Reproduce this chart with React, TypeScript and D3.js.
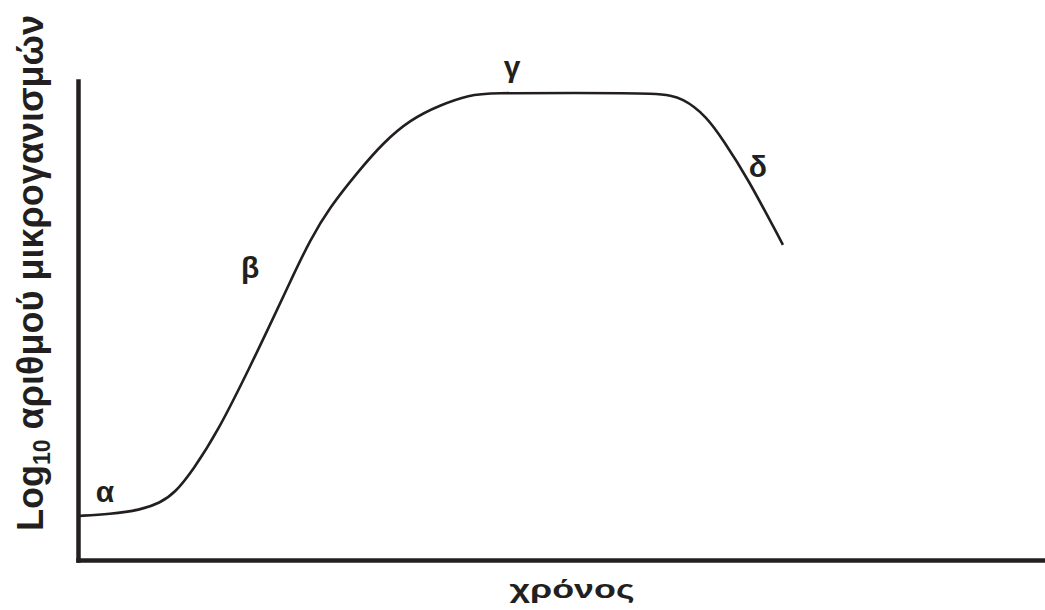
import React, { useEffect, useRef } from "react";
import * as d3 from "d3";

// growth curve (time in % of axis, log10 count in axis units 0..10)
const timeValues = [0, 3.31, 6.41, 8.48, 10.03, 11.89, 14.37, 17.79, 20.58, 22.13, 23.99, 26.06, 28.85, 31.54, 34.33, 37.44, 40.54, 42.61, 51.4, 60.19, 62.56, 65.05, 66.7, 69.18, 72.9];
const logCounts = [0.92, 0.96, 1.04, 1.19, 1.4, 1.88, 2.65, 4.03, 5.22, 5.89, 6.68, 7.37, 8.08, 8.71, 9.19, 9.5, 9.71, 9.75, 9.75, 9.75, 9.65, 9.25, 8.77, 8.0, 6.58];

// growth phases and where their letters sit (data units)
const phaseNames = ["α", "β", "γ", "δ"];
const phaseTime = [2.8, 17.8, 44.9, 70.3];
const phaseLog = [1.21, 5.89, 10.08, 8.0];

const xTitle = "χρόνος";
const yTitleMain = "Log";
const yTitleSub = "10";
const yTitleRest = " αριθμού μικρογανισμών";

const W = 1045;
const H = 610;
const INK = "#231f20";
const FONT = "'Liberation Sans', Arial, sans-serif";

const App = () => {
   const svgRef = useRef<SVGSVGElement>(null);

   useEffect(() => {
      const svg = d3.select(svgRef.current);
      svg.selectAll("*").remove();

      const margin = { top: 81, bottom: 50, left: 78, right: 0 };

      // ---------------------- scale
      const scale = {
         x: d3.scaleLinear().domain([0, 100]).range([margin.left, W - margin.right]),
         y: d3.scaleLinear().domain([0, 10]).range([H - margin.bottom, margin.top])
      };

      // ---------------------- axis (no ticks, just the frame lines)
      const xAxis = svg
         .append("g")
         .attr("transform", `translate(0, ${H - margin.bottom})`)
         .call(d3.axisBottom(scale.x).tickValues([]).tickSizeOuter(0));
      const yAxis = svg
         .append("g")
         .attr("transform", `translate(${margin.left}, 0)`)
         .call(d3.axisLeft(scale.y).tickValues([]).tickSizeOuter(0));
      [xAxis, yAxis].forEach(g =>
         g.select(".domain")
            .attr("stroke", INK)
            .attr("stroke-width", 4.5)
            .attr("stroke-linecap", "square")
      );

      // ---------------------- curve
      const points: [number, number][] = timeValues.map((t, i) => [t, logCounts[i]]);
      const line = d3
         .line<[number, number]>()
         .x(d => scale.x(d[0]))
         .y(d => scale.y(d[1]))
         .curve(d3.curveBasis);
      svg.append("path")
         .datum(points)
         .attr("d", line)
         .attr("fill", "none")
         .attr("stroke", INK)
         .attr("stroke-width", 2.6);

      // ---------------------- phase letters
      svg.selectAll(".phase")
         .data(phaseNames)
         .join("text")
         .attr("class", "phase")
         .attr("x", (_, i) => scale.x(phaseTime[i]))
         .attr("y", (_, i) => scale.y(phaseLog[i]))
         .attr("text-anchor", "middle")
         .attr("font-family", FONT)
         .attr("font-weight", "bold")
         .attr("font-size", 30)
         .attr("fill", INK)
         .text(d => d);

      // ---------------------- titles
      svg.append("text")
         .attr("x", 572)
         .attr("y", 598)
         .attr("text-anchor", "middle")
         .attr("font-family", FONT)
         .attr("font-weight", "bold")
         .attr("font-size", 25)
         .attr("textLength", 125)
         .attr("lengthAdjust", "spacingAndGlyphs")
         .attr("fill", INK)
         .text(xTitle);

      const yt = svg
         .append("text")
         .attr("transform", "translate(43, 531) rotate(-90)")
         .attr("font-family", FONT)
         .attr("font-weight", "bold")
         .attr("font-size", 36)
         .attr("fill", INK);
      yt.append("tspan").text(yTitleMain);
      yt.append("tspan").attr("font-size", 23).attr("dy", 7).text(yTitleSub);
      yt.append("tspan").attr("dy", -7).text(yTitleRest);
   }, []);

   return (
      <svg
         ref={svgRef}
         width={W}
         height={H}
         style={{ position: "absolute", left: 0, top: 0, background: "#fff" }}
      />
   );
};

export default App;
